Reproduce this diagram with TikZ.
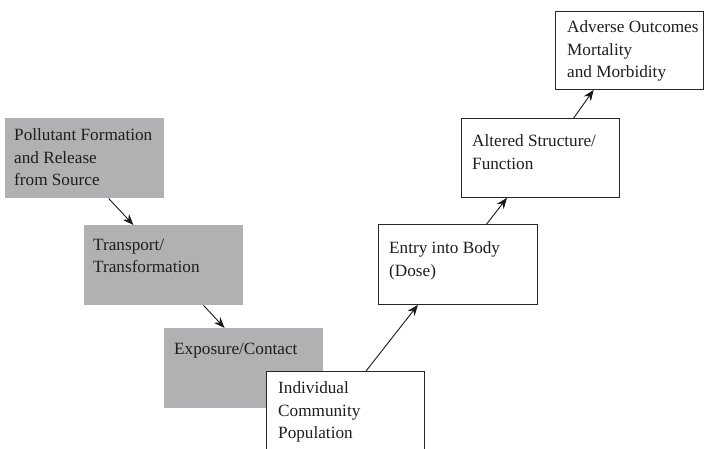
\documentclass[tikz,border=0pt]{standalone}
\usepackage{fontspec}
\setmainfont{Liberation Serif}
\usetikzlibrary{arrows.meta,calc}
\definecolor{boxgray}{RGB}{177,177,180}
\definecolor{txt}{RGB}{30,30,30}
\begin{document}
\begin{tikzpicture}[x=1pt,y=-1pt,
  gbox/.style={fill=boxgray,draw=none,inner sep=0pt,minimum width=159pt,minimum height=80pt,anchor=north west},
  wbox/.style={fill=white,draw=black!85,line width=0.8pt,inner sep=0pt,minimum height=79pt,anchor=north west},
  lbl/.style={anchor=north west,inner sep=0pt,align=left,text=txt,font=\fontsize{17.2}{22.5}\selectfont},
  arr/.style={-{Stealth[length=11pt,width=8.5pt]},line width=0.9pt,black!90}]
\useasboundingbox (0,0) rectangle (704,448);
\node[gbox] (b1) at (5,118) {};
\node[gbox] (b2) at (84,225) {};
\node[gbox] (b3) at (164,328) {};
\node[wbox,minimum width=158pt,minimum height=79pt] (b4) at (266,371) {};
\node[wbox,minimum width=159pt,minimum height=80pt] (b5) at (378,224) {};
\node[wbox,minimum width=158pt,minimum height=79pt] (b6) at (461,118) {};
\node[wbox,minimum width=148pt,minimum height=78pt] (b7) at (555,11) {};
\node[lbl] (t1) at (14,128.5) {Pollutant Formation\\and Release\\from Source};
\node[lbl] (t2) at (93,238.5) {Transport/\\Transformation};
\node[lbl] (t3) at (174,342.5) {Exposure/Contact};
\node[lbl] (t4) at (278,381.5) {Individual\\Community\\Population};
\node[lbl] (t5) at (389,241.5) {Entry into Body\\(Dose)};
\node[lbl] (t6) at (472,134.5) {Altered Structure/\\Function};
\node[lbl] (t7) at (567,20.5) {Adverse Outcomes\\Mortality\\and Morbidity};
\draw[arr] ($(b1.south west)!0.65!(b1.south east)$) -- ($(b2.north west)!0.31!(b2.north east)$);
\draw[arr] ($(b2.south west)!0.75!(b2.south east)$) -- ($(b3.north west)!0.38!(b3.north east)$);
\draw[arr] ($(b4.north west)!0.63!(b4.north east)$) -- ($(b5.south west)!0.25!(b5.south east)$);
\draw[arr] ($(b5.north west)!0.68!(b5.north east)$) -- ($(b6.south west)!0.29!(b6.south east)$);
\draw[arr] ($(b6.north west)!0.71!(b6.north east)$) -- ($(b7.south west)!0.26!(b7.south east)$);
\end{tikzpicture}
\end{document}
